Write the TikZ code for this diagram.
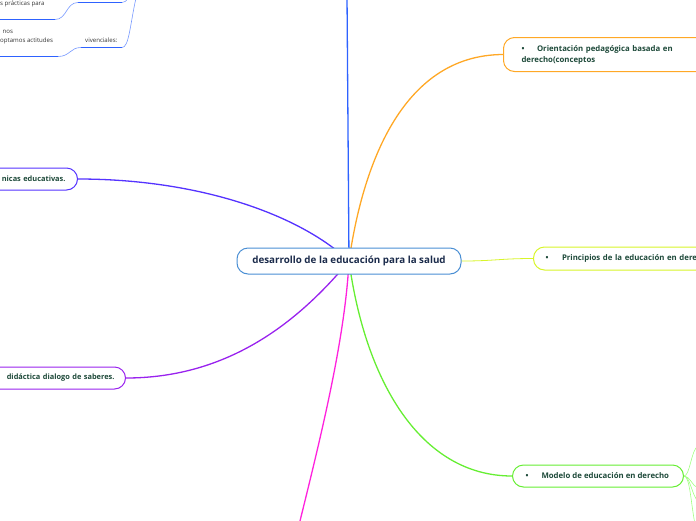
\documentclass[tikz,border=0pt]{standalone}
\usepackage{fontspec}
\setmainfont{Open Sans}
\usetikzlibrary{backgrounds}
\definecolor{navytext}{HTML}{1B2B4B}
\definecolor{greentext}{HTML}{1E4A3A}
\definecolor{cborder}{HTML}{4A8FD4}
\definecolor{corange}{HTML}{FFA826}
\definecolor{cyellow}{HTML}{D8F52A}
\definecolor{cgreen}{HTML}{66EE33}
\definecolor{cviolet}{HTML}{5533FF}
\definecolor{cpurple}{HTML}{9922EE}
\definecolor{cmagenta}{HTML}{FF22DD}
\definecolor{cblue}{HTML}{2E62FF}
\definecolor{cthinblue}{HTML}{7799FF}
\definecolor{clightgreen}{HTML}{A0FF80}
\definecolor{smalltext}{HTML}{333333}
\tikzset{
  mainbox/.style={draw=cborder, line width=1pt, rounded corners=11pt, fill=white,
    minimum width=224pt, minimum height=26pt, inner sep=0pt,
    font=\bfseries\fontsize{9.8}{11}\selectfont, text=navytext},
  subbox/.style={line width=1pt, rounded corners=11pt, fill=white, inner ysep=0pt,
    font=\bfseries\fontsize{7.8}{11}\selectfont, text=greentext},
  leftbox/.style={subbox, font=\bfseries\fontsize{7.4}{11}\selectfont},
  conn/.style={line width=1.3pt},
  thick line/.style={draw=cblue, line width=1.6pt},
  thin line/.style={draw=cthinblue, line width=0.6pt},
  leaf/.style={draw=clightgreen, line width=0.6pt},
  smalllabel/.style={font=\fontsize{6.1}{7}\selectfont, text=smalltext, inner sep=0pt},
}
\begin{document}
\begin{tikzpicture}[x=1pt, y=-1pt]
\useasboundingbox (0,0) rectangle (696,520);
\clip (0,0) rectangle (696,520);

% nodes
\node[mainbox] (c) at (349,261) {desarrollo de la educación para la salud};
\node[subbox, draw=corange, anchor=north west, text width=210pt, inner xsep=18pt,
      minimum height=34pt, align=left] (ori) at (503,37)
  {\makebox[15.5pt][l]{\textbullet}Orientación pedagógica basada en\\derecho(conceptos};
\node[subbox, draw=cyellow, anchor=west, text width=200pt, inner xsep=12pt,
      minimum height=23pt, align=left] (pri) at (533,258.5)
  {\makebox[16.5pt][l]{\textbullet}Principios de la educación en dere};
\node[subbox, draw=cgreen, anchor=west, inner xsep=13pt,
      minimum height=22pt] (mod) at (512,476)
  {\makebox[145pt][l]{\makebox[16pt][l]{\textbullet}Modelo de educación en derecho}};
\node[leftbox, draw=cviolet, anchor=east, text width=90pt, inner xsep=12pt,
      minimum height=22pt, align=right] (tec) at (78,179) {nicas educativas.};
\node[leftbox, draw=cpurple, anchor=east, text width=140pt, inner xsep=11pt,
      minimum height=22pt, align=right] (did) at (126,378) {didáctica dialogo de saberes.};

\coordinate (topblue) at (347,-5);
\coordinate (botmag) at (299,525);

% top-left fragments
\node[smalllabel, anchor=west] (pra) at (0,4) {s prácticas para};
\node[smalllabel, anchor=west] (nos) at (2.5,32) {nos};
\node[smalllabel, anchor=west] (opt) at (0,40.5) {optamos actitudes};
\node[smalllabel, anchor=west] (viv) at (85,40.5) {vivenciales:};
\coordinate (a1) at (78,2.5);
\coordinate (a2) at (122,2.5);
\coordinate (a0) at (55,19.5);
\coordinate (aL) at (-2,19.5);
\coordinate (b1) at (81,47.5);
\coordinate (b2) at (122,47.5);
\coordinate (b0) at (58,56.5);
\coordinate (bL) at (-2,56.5);
\coordinate (t1) at (128,-2);
\coordinate (t2) at (136,-2);

\draw[thick line] (a1) -- (a2);
\draw[thick line] (a0) -- (aL);
\draw[thick line] (b1) -- (b2);
\draw[thick line] (b0) -- (bL);
\draw[thin line] (a1) .. controls (66,2.5) and (67,19.5) .. (a0);
\draw[thin line] (b1) .. controls (70,47.5) and (70,56.5) .. (b0);
\draw[thin line] (a2) .. controls (125,2.5) and (126,1) .. (t1);
\draw[thin line] (b2) .. controls (129,47.5) and (130,25) .. (t2);

% leaves of Modelo
\coordinate (l1) at (698,446);
\coordinate (l2) at (698,488);
\coordinate (l3) at (698,501);
\coordinate (l4) at (695,524);
\draw[leaf] (mod.east) .. controls (690,476) and (691,450) .. (l1);
\draw[leaf] (mod.east) .. controls (690,476) and (692,486) .. (l2);
\draw[leaf] (mod.east) .. controls (690,476) and (692,496) .. (l3);
\draw[leaf] (mod.east) .. controls (690,476) and (691,505) .. (l4);

% connectors from the centre
\begin{scope}[on background layer]
\draw[conn, draw=cblue] (c.center) -- (topblue);
\draw[conn, draw=corange] (c.center) .. controls (362,170) and (400,55) .. (ori.west);
\draw[conn, draw=cgreen] (c.center) .. controls (365,380) and (420,476) .. (mod.west);
\draw[conn, draw=cmagenta] (c.center) .. controls (345,340) and (320,440) .. (botmag);
\draw[conn, draw=cviolet] (c.center) .. controls (300,215) and (200,179) .. (tec.east);
\draw[conn, draw=cpurple] (c.center) .. controls (300,320) and (230,378) .. (did.east);
\draw[line width=0.8pt, draw=cyellow] (c.center) -- (c.east) .. controls (495,261) and (500,258.5) .. (pri.west);
\end{scope}
\end{tikzpicture}
\end{document}
